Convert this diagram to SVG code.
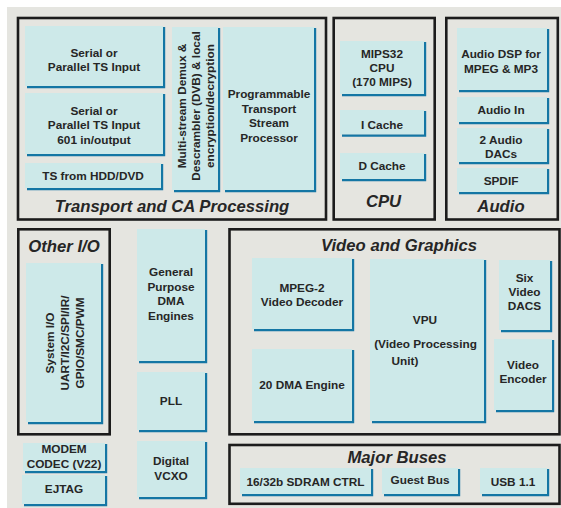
<svg xmlns="http://www.w3.org/2000/svg" width="561" height="508" viewBox="0 0 561 508">
<style>
.bg{fill:#e5e5e0}
.frame{fill:none;stroke:#1c1c1c;stroke-width:2.6}
.box{fill:#cde9e9}
.sh{fill:none;stroke:#1476a4;stroke-width:2.2}
text{font-family:"Liberation Sans",Arial,sans-serif;fill:#262626}
.t{font-size:11.8px;font-weight:bold;text-anchor:middle}
.h{font-size:16.7px;font-weight:bold;font-style:italic;text-anchor:middle}
</style>
<rect class="bg" x="7" y="7" width="554" height="501"/>
<g id="frames">
<g id="transport-frame"><rect class="frame" x="18" y="18" width="308" height="201.5"/><text class="h" x="172" y="211.5">Transport and CA Processing</text></g>
<g id="cpu-frame"><rect class="frame" x="333.7" y="18" width="101" height="201.5"/><text class="h" x="383.5" y="207">CPU</text></g>
<g id="audio-frame"><rect class="frame" x="446.3" y="18" width="111.5" height="201.5"/><text class="h" x="501" y="212">Audio</text></g>
<g id="otherio-frame"><rect class="frame" x="18.3" y="229.3" width="91.4" height="205"/><text class="h" x="64" y="252">Other I/O</text></g>
<g id="video-frame"><rect class="frame" x="229.5" y="229.3" width="330" height="205"/><text class="h" x="399" y="251">Video and Graphics</text></g>
<g id="buses-frame"><rect class="frame" x="229.5" y="445" width="330" height="58.8"/><text class="h" x="397" y="463">Major Buses</text></g>
</g>
<g id="ts1"><rect class="box" x="25" y="26" width="138" height="60"/><path class="sh" d="M27 87.1H164.1V27"/><text class="t" x="94" y="56.5">Serial or</text><text class="t" x="94" y="70.8">Parallel TS Input</text></g>
<g id="ts2"><rect class="box" x="25" y="93" width="138" height="61"/><path class="sh" d="M27 155.1H164.1V94"/><text class="t" x="94" y="115">Serial or</text><text class="t" x="94" y="129.3">Parallel TS Input</text><text class="t" x="94" y="143.6">601 in/output</text></g>
<g id="ts3"><rect class="box" x="25" y="163" width="136" height="25"/><path class="sh" d="M27 189.1H162.1V164"/><text class="t" x="93" y="180">TS from HDD/DVD</text></g>
<g id="demux"><rect class="box" x="172" y="27" width="46" height="163"/><path class="sh" d="M174 191.1H219.1V28"/><g transform="rotate(-90 0 0)"><text class="t" x="-106" y="185.5">Multi-stream Demux &amp;</text><text class="t" x="-106" y="199.5">Descrambler (DVB) &amp; local</text><text class="t" x="-106" y="213.5">encryption/decryption</text></g></g>
<g id="ptsp"><rect class="box" x="223" y="27" width="91" height="163"/><path class="sh" d="M225 191.1H315.1V28"/><text class="t" x="269" y="98">Programmable</text><text class="t" x="269" y="112.5">Transport</text><text class="t" x="269" y="127">Stream</text><text class="t" x="269" y="141.5">Processor</text></g>
<g id="mips"><rect class="box" x="340" y="41" width="84" height="53"/><path class="sh" d="M342 95.1H425.1V42"/><text class="t" x="382" y="57.5">MIPS32</text><text class="t" x="382" y="71.8">CPU</text><text class="t" x="382" y="86">(170 MIPS)</text></g>
<g id="icache"><rect class="box" x="340" y="110" width="84" height="24.5"/><path class="sh" d="M342 135.6H425.1V111"/><text class="t" x="382" y="128.5">I Cache</text></g>
<g id="dcache"><rect class="box" x="340" y="153" width="84" height="26"/><path class="sh" d="M342 180.1H425.1V154"/><text class="t" x="382" y="170">D Cache</text></g>
<g id="adsp"><rect class="box" x="457" y="28" width="90" height="62"/><path class="sh" d="M459 91.1H548.1V29"/><text class="t" x="501" y="58.3">Audio DSP for</text><text class="t" x="501" y="72.5">MPEG &amp; MP3</text></g>
<g id="ain"><rect class="box" x="457" y="97" width="90" height="25"/><path class="sh" d="M459 123.1H548.1V98"/><text class="t" x="501" y="113.5">Audio In</text></g>
<g id="adac"><rect class="box" x="457" y="128" width="90" height="34"/><path class="sh" d="M459 163.1H548.1V129"/><text class="t" x="501" y="143.5">2 Audio</text><text class="t" x="501" y="157.5">DACs</text></g>
<g id="spdif"><rect class="box" x="457" y="168" width="90" height="24"/><path class="sh" d="M459 193.1H548.1V169"/><text class="t" x="501" y="185">SPDIF</text></g>
<g id="sysio"><rect class="box" x="26" y="263" width="75" height="159"/><path class="sh" d="M28 423.1H102.1V264"/><g transform="rotate(-90 0 0)"><text class="t" x="-343" y="53.5">System I/O</text><text class="t" x="-343" y="68.5">UART/I2C/SPI/IR/</text><text class="t" x="-343" y="83.5">GPIO/SMC/PWM</text></g></g>
<g id="gpdma"><rect class="box" x="137" y="229" width="68" height="132"/><path class="sh" d="M139 362.1H206.1V230"/><text class="t" x="171" y="276.3">General</text><text class="t" x="171" y="290.8">Purpose</text><text class="t" x="171" y="305.3">DMA</text><text class="t" x="171" y="319.8">Engines</text></g>
<g id="pll"><rect class="box" x="137" y="372" width="68" height="58"/><path class="sh" d="M139 431.1H206.1V373"/><text class="t" x="171" y="405">PLL</text></g>
<g id="vcxo"><rect class="box" x="137" y="441" width="68" height="56"/><path class="sh" d="M139 498.1H206.1V442"/><text class="t" x="171" y="465">Digital</text><text class="t" x="171" y="480">VCXO</text></g>
<g id="modem"><rect class="box" x="23" y="443" width="82" height="28"/><path class="sh" d="M25 472.1H106.1V444"/><text class="t" x="64" y="453.3">MODEM</text><text class="t" x="64" y="467.5">CODEC (V22)</text></g>
<g id="ejtag"><rect class="box" x="22" y="475" width="83" height="29"/><path class="sh" d="M24 505.1H106.1V476"/><text class="t" x="64" y="492.7">EJTAG</text></g>
<g id="mpeg2"><rect class="box" x="252" y="258" width="100" height="71"/><path class="sh" d="M254 330.1H353.1V259"/><text class="t" x="302" y="292.3">MPEG-2</text><text class="t" x="302" y="306">Video Decoder</text></g>
<g id="dma20"><rect class="box" x="252" y="349" width="100" height="72"/><path class="sh" d="M254 422.1H353.1V350"/><text class="t" x="302" y="388.5">20 DMA Engine</text></g>
<g id="vpu"><rect class="box" x="370" y="259" width="114" height="162"/><path class="sh" d="M372 422.1H485.1V260"/><text class="t" x="425" y="324.3">VPU</text><text class="t" x="425.5" y="347.5">(Video Processing</text><text class="t" x="405" y="365">Unit)</text></g>
<g id="vdacs"><rect class="box" x="499" y="260" width="51" height="70"/><path class="sh" d="M501 331.1H551.1V261"/><text class="t" x="524.5" y="281.7">Six</text><text class="t" x="524.5" y="295.7">Video</text><text class="t" x="524.5" y="310">DACS</text></g>
<g id="venc"><rect class="box" x="494" y="339" width="58" height="71"/><path class="sh" d="M496 411.1H553.1V340"/><text class="t" x="523" y="369">Video</text><text class="t" x="523" y="382.7">Encoder</text></g>
<g id="sdram"><rect class="box" x="240" y="468" width="131" height="26"/><path class="sh" d="M242 495.1H372.1V469"/><text class="t" x="305.5" y="485.5">16/32b SDRAM CTRL</text></g>
<g id="guest"><rect class="box" x="382" y="468" width="76" height="26"/><path class="sh" d="M384 495.1H459.1V469"/><text class="t" x="420" y="484.3">Guest Bus</text></g>
<g id="usb"><rect class="box" x="480" y="468" width="67" height="26"/><path class="sh" d="M482 495.1H548.1V469"/><text class="t" x="513" y="485.7">USB 1.1</text></g>
<g id="connectors"/>
</svg>
